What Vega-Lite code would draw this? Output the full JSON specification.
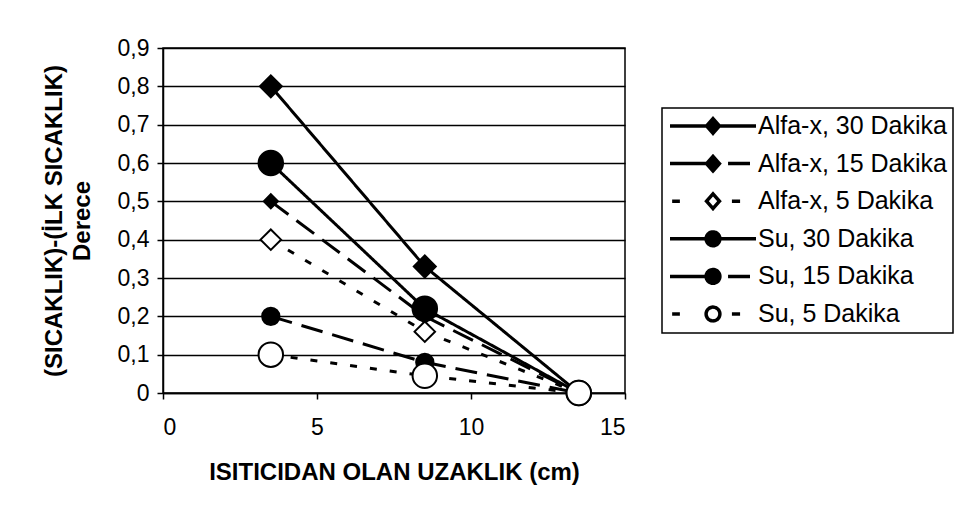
{
  "$schema": "https://vega.github.io/schema/vega-lite/v6.json",
  "width": 462,
  "height": 345,
  "autosize": "none",
  "padding": {"left": 163, "top": 48, "right": 329, "bottom": 122},
  "background": "white",
  "config": {
    "font": "Liberation Sans",
    "view": {"stroke": "black", "strokeWidth": 1.5},
    "axis": {
      "domainColor": "black", "domainWidth": 1.5,
      "tickColor": "black", "tickWidth": 1.5, "tickSize": 6,
      "labelColor": "black", "labelFont": "Liberation Sans", "labelFontSize": 23,
      "titleColor": "black", "titleFont": "Liberation Sans", "titleFontSize": 24, "titleFontWeight": "bold"
    }
  },
  "data": {
    "values": [
      {"s": "Alfa-x, 30 Dakika", "x": 3.5, "y": 0.8},
      {"s": "Alfa-x, 30 Dakika", "x": 8.5, "y": 0.33},
      {"s": "Alfa-x, 30 Dakika", "x": 13.5, "y": 0},
      {"s": "Alfa-x, 15 Dakika", "x": 3.5, "y": 0.5},
      {"s": "Alfa-x, 15 Dakika", "x": 8.5, "y": 0.2},
      {"s": "Alfa-x, 15 Dakika", "x": 13.5, "y": 0},
      {"s": "Alfa-x, 5 Dakika", "x": 3.5, "y": 0.4},
      {"s": "Alfa-x, 5 Dakika", "x": 8.5, "y": 0.16},
      {"s": "Alfa-x, 5 Dakika", "x": 13.5, "y": 0},
      {"s": "Su, 30 Dakika", "x": 3.5, "y": 0.6},
      {"s": "Su, 30 Dakika", "x": 8.5, "y": 0.22},
      {"s": "Su, 30 Dakika", "x": 13.5, "y": 0},
      {"s": "Su, 15 Dakika", "x": 3.5, "y": 0.2},
      {"s": "Su, 15 Dakika", "x": 8.5, "y": 0.08},
      {"s": "Su, 15 Dakika", "x": 13.5, "y": 0},
      {"s": "Su, 5 Dakika", "x": 3.5, "y": 0.1},
      {"s": "Su, 5 Dakika", "x": 8.5, "y": 0.045},
      {"s": "Su, 5 Dakika", "x": 13.5, "y": 0}
    ]
  },
  "encoding": {
    "x": {
      "field": "x", "type": "quantitative",
      "scale": {"domain": [0, 15], "nice": false, "zero": false},
      "axis": {"values": [0, 5, 10, 15], "grid": false, "labelPadding": 17, "titlePadding": 21,
               "title": "ISITICIDAN OLAN UZAKLIK (cm)"}
    },
    "y": {
      "field": "y", "type": "quantitative",
      "scale": {"domain": [0, 0.9], "nice": false},
      "axis": {
        "values": [0, 0.1, 0.2, 0.3, 0.4, 0.5, 0.6, 0.7, 0.8, 0.9],
        "grid": true, "gridColor": "black", "gridWidth": 1.5, "gridOpacity": 1,
        "labelPadding": 8,
        "labelExpr": "datum.value == 0 ? '0' : replace(format(datum.value, '.1f'), '.', ',')",
        "title": ["(SICAKLIK)-(İLK SICAKLIK)", "Derece"],
        "titleLineHeight": 28, "titlePadding": 23
      }
    }
  },
  "layer": [
    {
      "mark": {"type": "line", "strokeWidth": 3},
      "encoding": {
        "color": {
          "field": "s", "type": "nominal",
          "scale": {
            "domain": ["Alfa-x, 30 Dakika", "Alfa-x, 15 Dakika", "Alfa-x, 5 Dakika", "Su, 30 Dakika", "Su, 15 Dakika", "Su, 5 Dakika"],
            "range": ["black", "black", "black", "black", "black", "black"]
          },
          "legend": {
            "title": null, "orient": "none", "legendX": 499, "legendY": 60,
            "padding": 6, "strokeColor": "black",
            "labelFont": "Liberation Sans", "labelFontSize": 25, "labelColor": "black", "labelLimit": 400,
            "labelOffset": 0, "symbolSize": 7396, "clipHeight": 24, "rowPadding": 12.6,
            "symbolStrokeWidth": 3.5, "symbolStrokeColor": "black",
            "encode": {
              "legend": {"update": {"strokeWidth": {"value": 1.5}}},
              "symbols": {
                "update": {
                  "shape": {"signal": "datum.value === 'Alfa-x, 30 Dakika' ? 'M-1,0H1M0,-0.17L0.15,0L0,0.17L-0.15,0Z' : datum.value === 'Alfa-x, 15 Dakika' ? 'M-1,0H-0.05M0.35,0H0.86M0,-0.17L0.15,0L0,0.17L-0.15,0Z' : datum.value === 'Alfa-x, 5 Dakika' ? 'M-0.95,0H-0.77M0.44,0H0.63M0,-0.17L0.15,0L0,0.17L-0.15,0Z' : datum.value === 'Su, 30 Dakika' ? 'M-1,0H1M0.16,0A0.16,0.16,0,1,1,-0.16,0A0.16,0.16,0,1,1,0.16,0Z' : datum.value === 'Su, 15 Dakika' ? 'M-1,0H-0.05M0.35,0H0.86M0.16,0A0.16,0.16,0,1,1,-0.16,0A0.16,0.16,0,1,1,0.16,0Z' : 'M-0.95,0H-0.77M0.44,0H0.63M0.16,0A0.16,0.16,0,1,1,-0.16,0A0.16,0.16,0,1,1,0.16,0Z'"},
                  "fill": {"signal": "(datum.value === 'Alfa-x, 5 Dakika' || datum.value === 'Su, 5 Dakika') ? 'white' : 'black'"},
                  "stroke": {"value": "black"},
                  "strokeDash": {"value": [1, 0]},
                  "opacity": {"value": 1}
                }
              }
            }
          }
        },
        "strokeDash": {
          "field": "s", "type": "nominal",
          "scale": {
            "domain": ["Su, 5 Dakika", "Su, 15 Dakika", "Su, 30 Dakika", "Alfa-x, 5 Dakika", "Alfa-x, 15 Dakika", "Alfa-x, 30 Dakika"],
            "range": [[7, 13], [22, 10], [1, 0], [7, 13], [22, 10], [1, 0]]
          },
          "legend": null
        }
      }
    },
    {
      "mark": {"type": "point", "filled": false, "stroke": "black", "strokeWidth": 2, "opacity": 1},
      "encoding": {
        "shape": {
          "field": "s", "type": "nominal",
          "scale": {
            "domain": ["Su, 5 Dakika", "Su, 15 Dakika", "Su, 30 Dakika", "Alfa-x, 5 Dakika", "Alfa-x, 15 Dakika", "Alfa-x, 30 Dakika"],
            "range": ["circle", "circle", "circle", "diamond", "diamond", "diamond"]
          },
          "legend": null
        },
        "size": {
          "field": "s", "type": "nominal",
          "scale": {
            "type": "ordinal",
            "domain": ["Su, 5 Dakika", "Su, 15 Dakika", "Su, 30 Dakika", "Alfa-x, 5 Dakika", "Alfa-x, 15 Dakika", "Alfa-x, 30 Dakika"],
            "range": [600, 300, 600, 420, 200, 484]
          },
          "legend": null
        },
        "fill": {
          "field": "s", "type": "nominal",
          "scale": {
            "domain": ["Su, 5 Dakika", "Su, 15 Dakika", "Su, 30 Dakika", "Alfa-x, 5 Dakika", "Alfa-x, 15 Dakika", "Alfa-x, 30 Dakika"],
            "range": ["white", "black", "black", "white", "black", "black"]
          },
          "legend": null
        }
      }
    }
  ]
}
